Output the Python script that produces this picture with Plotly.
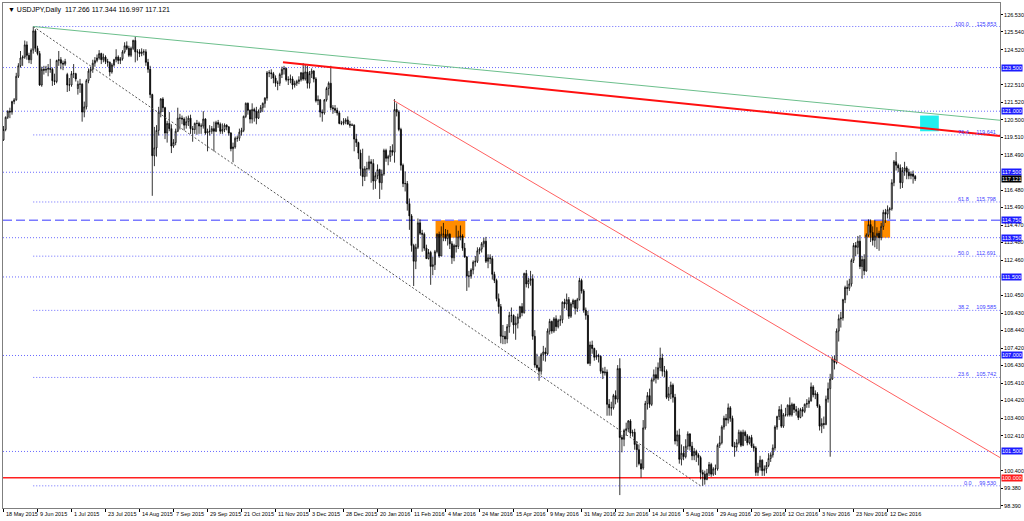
import plotly.graph_objects as go

# ---------------- data ----------------
open_ = [
119.35,119.95,120.65,121.00,120.95,121.55,121.65,123.00,123.60,124.05,124.10,124.80,124.20,123.95,124.50,125.60,
124.60,124.30,122.50,123.40,123.35,123.40,123.45,123.40,122.75,122.70,123.90,123.95,123.75,123.70,123.10,122.50,
122.50,123.15,123.15,122.30,122.55,122.55,120.95,121.25,122.75,123.30,123.40,123.75,123.90,124.05,124.30,123.95,
124.10,123.85,123.80,123.25,123.65,123.95,124.10,123.90,124.00,124.40,124.75,124.60,124.20,124.60,125.05,124.40,
124.40,124.30,124.40,124.40,123.80,123.40,121.95,118.45,118.90,119.90,120.95,121.70,121.20,119.75,120.30,120.00,
119.00,119.20,119.85,120.60,120.60,120.55,120.20,120.40,120.60,120.00,119.95,120.30,120.30,120.15,120.15,120.55,
119.75,119.85,119.85,120.00,119.85,120.35,120.25,119.85,119.95,120.20,120.10,119.75,118.85,118.95,119.45,119.45,
119.80,119.90,120.70,121.45,121.05,120.55,121.10,121.00,120.60,121.00,121.20,121.45,121.75,123.20,123.20,123.15,
122.90,122.60,122.60,123.10,123.40,123.45,122.80,122.80,122.85,122.50,122.60,122.70,122.80,123.20,122.85,123.25,
122.60,123.15,123.30,122.85,121.60,121.65,120.95,120.90,121.65,122.30,122.60,121.20,121.15,121.05,120.90,120.30,
120.30,120.40,120.50,120.25,120.20,120.20,119.40,119.20,118.60,117.70,117.25,117.70,117.70,118.10,118.00,117.00,
117.30,117.65,116.90,117.40,118.75,118.30,118.40,118.75,118.65,121.10,120.95,119.95,117.90,116.85,116.85,115.70,
115.00,113.30,112.40,113.20,114.60,114.00,113.95,113.15,112.55,112.90,112.10,112.20,112.95,113.95,112.70,113.95,
113.95,113.70,113.95,113.40,112.60,113.30,113.25,113.80,113.85,113.15,112.65,111.55,111.55,111.90,112.35,112.40,
113.00,113.10,113.40,113.55,112.40,112.60,112.55,111.65,111.30,110.25,109.80,108.10,108.10,107.95,108.65,109.30,
109.30,108.75,108.85,109.20,109.80,109.45,111.70,111.10,111.30,111.40,108.10,106.45,106.30,106.10,107.05,107.20,
107.10,108.40,108.95,108.40,109.10,108.65,109.00,109.05,110.05,109.95,110.20,109.25,109.95,110.15,109.70,110.20,
111.30,110.70,109.60,109.30,106.55,107.60,107.40,106.90,107.00,106.95,106.10,106.00,106.05,104.20,104.00,104.00,
104.70,104.50,106.25,102.30,102.20,102.70,102.80,103.25,102.55,102.60,101.90,101.60,100.80,100.55,102.85,104.25,
104.70,104.20,105.60,105.90,105.70,106.30,106.85,106.10,106.10,104.60,104.80,105.30,104.60,102.10,102.45,101.05,
101.40,101.20,101.80,102.50,101.80,101.25,101.50,101.30,101.15,100.30,100.20,99.90,100.25,100.75,100.20,100.50,
100.50,101.85,102.00,102.90,103.40,103.30,104.00,103.40,101.80,101.75,102.00,102.60,101.85,102.60,102.40,102.00,
102.30,101.80,101.70,100.30,100.60,101.00,100.40,100.50,100.70,101.10,101.30,101.70,102.90,103.50,103.90,102.95,
103.60,103.60,104.15,103.60,104.20,103.90,103.80,103.45,103.90,103.80,104.20,104.25,104.40,105.20,104.75,104.80,
104.10,102.95,103.10,103.05,104.50,105.10,105.65,106.80,106.60,108.40,109.10,109.15,110.20,110.90,110.85,111.10,
112.45,113.30,113.20,113.55,112.10,112.50,111.85,113.90,114.50,114.05,113.60,113.85,114.00,113.75,114.40,115.20,
115.10,115.35,115.40,116.90,118.10,117.90,117.75,116.90,117.60,117.75,117.50,117.30,117.40,117.266]

high = [
120.15,120.70,121.05,121.20,121.60,121.75,123.20,123.75,124.45,124.20,125.05,125.00,124.35,124.60,125.85,125.70,
124.75,124.45,123.55,123.60,123.60,123.70,124.00,123.50,123.15,123.95,124.45,124.10,123.90,124.00,123.20,122.90,
123.30,123.70,123.20,122.75,122.85,122.60,121.55,122.85,123.45,123.55,123.95,124.10,124.25,124.50,124.35,124.30,
124.20,124.00,123.85,123.75,124.00,124.55,124.20,124.10,124.50,124.95,125.00,124.75,124.70,125.10,125.28,124.55,
124.55,124.60,124.55,124.55,124.00,123.60,122.00,120.10,120.20,121.25,121.75,121.80,121.25,120.45,120.95,120.25,
119.40,120.00,121.20,120.85,120.75,120.65,120.70,120.75,120.80,120.15,120.35,120.50,120.40,120.30,121.00,120.60,
120.00,120.20,120.15,120.40,120.45,120.50,120.35,120.30,120.30,120.25,120.15,119.80,119.20,119.55,119.60,120.00,
120.05,120.75,121.50,121.50,121.10,121.45,121.20,121.25,121.10,121.35,121.50,121.80,123.30,123.35,123.40,123.25,
123.05,122.75,123.20,123.55,123.60,123.50,123.00,123.10,123.00,122.75,122.80,123.00,123.25,123.75,123.65,123.60,
123.30,123.45,123.35,122.95,121.90,121.70,121.10,121.70,122.40,122.70,123.60,121.35,121.35,121.20,121.00,120.45,
120.60,120.60,120.70,120.45,120.30,120.25,119.70,119.25,118.80,118.85,117.85,118.10,118.45,118.25,118.25,117.50,
117.95,117.70,117.65,118.85,118.85,118.50,119.00,119.10,121.69,121.45,121.05,120.05,118.00,117.55,117.00,116.00,
115.10,113.40,113.40,114.85,114.80,114.20,114.05,113.35,113.10,113.00,112.65,113.05,114.00,114.10,114.40,114.60,
114.25,114.20,114.00,113.55,113.40,114.45,114.15,114.45,113.95,113.45,112.70,111.85,112.00,112.45,112.70,113.20,
113.20,113.50,113.75,113.80,112.80,112.80,112.70,111.80,111.40,110.55,109.95,108.75,108.40,108.80,109.50,109.75,
109.35,109.25,109.40,109.85,110.00,111.75,111.90,111.45,111.85,111.65,108.45,107.10,106.95,107.15,107.55,107.45,
108.55,109.10,109.00,109.20,109.30,109.10,109.30,110.10,110.25,110.55,110.35,110.05,110.25,110.20,110.30,111.45,
111.40,110.80,109.75,109.55,107.80,107.85,107.45,107.30,107.10,107.00,106.30,106.35,106.20,104.50,104.35,104.80,
105.00,106.45,106.84,102.45,102.80,103.15,103.30,103.35,102.75,102.80,102.10,101.90,101.05,103.30,104.40,104.90,
105.10,105.70,106.20,106.35,106.60,107.45,107.10,106.40,106.20,105.20,105.50,105.40,104.80,102.70,102.80,101.90,
101.80,102.20,102.65,102.55,102.05,101.70,101.60,101.40,101.25,100.45,100.40,100.50,100.90,100.85,100.60,100.75,
101.95,102.40,103.00,103.55,103.65,104.25,104.10,103.55,102.05,102.20,102.75,102.70,102.75,102.70,102.50,102.40,
102.45,101.95,101.80,100.85,101.25,101.05,100.70,100.90,101.40,101.45,101.90,103.00,103.55,104.10,104.20,103.70,
104.00,104.20,104.60,104.30,104.25,104.10,104.00,104.00,104.05,104.25,104.50,104.60,105.45,105.30,105.00,104.90,
104.20,103.40,103.50,104.70,105.45,105.95,106.95,107.00,108.55,109.35,109.50,110.25,111.00,111.30,111.40,112.55,
113.45,113.50,113.85,113.90,112.70,112.80,114.00,114.80,114.80,114.40,114.75,114.35,114.15,114.60,115.35,115.40,
115.60,115.50,117.10,118.20,118.66,118.00,117.95,117.80,118.10,117.85,117.70,117.55,117.60,117.344]

low = [
119.30,119.85,120.55,120.60,120.80,121.40,121.60,122.90,123.50,123.60,124.00,123.95,123.75,123.70,124.30,124.40,
124.20,122.45,122.40,123.10,123.20,123.00,123.20,122.45,122.50,122.60,123.60,123.40,123.35,123.60,122.10,122.15,
122.40,122.90,122.70,121.95,122.05,120.40,120.65,121.10,122.60,122.90,123.20,123.55,123.80,123.95,123.70,123.80,
123.70,123.55,123.00,123.15,123.55,123.80,123.70,123.70,123.90,124.30,124.50,124.10,124.10,124.50,123.80,123.90,
124.10,124.15,124.20,123.60,123.20,121.75,116.15,117.85,118.40,119.60,120.65,120.95,119.40,119.20,119.85,118.60,
118.90,119.05,119.80,119.95,120.25,119.90,120.00,120.15,119.70,119.25,119.70,119.65,119.70,119.70,120.00,119.65,
118.70,119.60,119.70,118.70,119.80,120.05,119.70,119.70,119.80,119.90,119.60,118.70,118.07,118.85,119.25,119.30,
119.60,119.80,120.60,120.80,120.30,120.30,120.40,120.25,120.55,120.90,120.95,121.20,121.60,122.95,122.85,122.60,
122.40,122.20,122.45,122.90,123.10,122.70,122.50,122.60,122.25,122.35,122.45,122.55,122.70,122.75,122.75,122.30,
122.30,122.90,122.65,121.50,121.35,120.65,120.40,120.80,121.55,121.90,121.05,120.85,120.90,120.75,120.25,120.20,
120.20,120.25,120.25,120.05,120.15,118.70,118.95,118.25,117.30,116.70,117.00,117.25,117.60,116.90,116.50,116.55,
117.10,115.97,116.50,117.30,118.10,117.90,118.10,118.45,118.05,120.70,119.85,117.60,116.65,116.40,115.30,114.20,
112.95,110.98,111.95,113.10,113.90,112.95,113.00,112.55,112.50,111.05,111.60,111.90,112.85,112.60,112.70,113.55,
113.55,113.30,113.10,112.25,112.40,112.90,113.10,113.60,113.00,112.60,110.70,110.90,111.40,111.65,112.10,112.30,
112.80,112.90,113.20,112.30,112.00,112.25,111.35,111.15,110.10,109.40,107.70,107.65,107.65,107.70,108.30,108.90,
108.25,107.90,108.55,109.10,109.25,109.40,110.90,110.85,111.00,107.90,106.30,106.15,105.55,105.90,106.70,106.65,
107.00,108.20,108.25,108.30,108.40,108.55,108.70,108.85,109.70,109.60,109.10,109.15,109.75,109.35,109.50,110.15,
110.55,109.45,109.05,106.50,106.40,107.10,106.70,106.75,106.60,105.95,105.65,105.85,103.55,103.55,103.55,103.90,
104.20,104.30,99.00,101.45,101.80,102.40,102.60,102.35,102.35,101.60,100.60,100.70,100.00,100.45,102.75,103.90,
104.00,104.10,105.50,105.40,105.60,106.10,105.80,105.75,104.50,104.40,104.50,104.30,101.90,101.80,100.80,100.70,
101.00,101.10,101.60,101.55,101.00,101.00,100.90,100.70,99.90,99.53,99.60,99.85,100.10,100.05,100.10,100.15,
100.40,101.70,101.90,102.75,102.95,103.10,103.20,101.75,101.20,101.50,101.90,101.75,101.80,102.10,101.85,101.90,
101.70,101.50,100.10,100.10,100.40,100.10,100.10,100.25,100.60,100.90,101.15,101.55,102.75,103.30,102.85,102.85,
103.50,103.50,103.50,103.50,103.70,103.55,103.30,103.40,103.50,103.70,104.00,104.00,104.35,104.60,104.50,104.00,
102.70,102.55,102.80,103.00,104.30,101.20,105.60,106.20,106.50,107.80,108.60,109.00,110.00,110.45,110.70,110.95,
112.30,112.70,112.80,111.95,111.40,111.60,111.80,113.80,113.50,113.30,113.20,113.10,113.00,113.60,114.20,114.60,
114.85,114.80,115.30,116.70,117.60,117.50,116.55,116.60,117.30,117.10,117.10,117.10,116.85,116.997]

close = [
119.95,120.65,121.00,120.95,121.55,121.65,123.00,123.60,124.05,124.10,124.80,124.20,123.95,124.50,125.60,124.60,
124.30,122.50,123.40,123.35,123.40,123.45,123.40,122.75,122.70,123.90,123.95,123.75,123.70,123.85,122.50,122.50,
123.15,123.15,122.85,122.55,122.55,120.95,121.25,122.75,123.30,123.40,123.75,123.90,124.05,124.30,123.95,124.10,
123.85,123.80,123.25,123.65,123.95,124.10,123.90,124.00,124.40,124.75,124.60,124.20,124.60,125.05,124.40,124.40,
124.30,124.40,124.40,123.80,123.40,121.95,118.45,118.90,119.90,120.95,121.70,121.20,119.75,120.30,120.00,119.00,
119.20,119.85,120.60,120.60,120.55,120.20,120.40,120.60,120.00,119.95,120.30,120.30,120.15,120.15,120.55,119.75,
119.85,119.85,120.00,119.85,120.35,120.25,119.85,119.95,120.20,120.10,119.75,118.85,118.95,119.45,119.45,119.80,
119.90,120.70,121.45,121.05,120.55,121.10,121.00,120.60,121.00,121.20,121.45,121.75,123.20,123.20,123.15,122.90,
122.60,122.60,123.10,123.40,123.45,122.80,122.80,122.85,122.50,122.60,122.70,122.80,123.20,122.85,123.25,122.60,
123.15,123.30,122.85,121.60,121.65,120.95,120.90,121.65,122.30,122.60,121.20,121.15,121.05,120.90,120.30,120.30,
120.40,120.50,120.25,120.20,120.20,119.40,119.20,118.60,117.70,117.25,117.70,117.70,118.10,118.00,117.00,117.30,
117.65,116.90,117.40,118.75,118.30,118.40,118.75,118.65,121.10,120.95,119.95,117.90,116.85,116.85,115.70,115.00,
113.30,112.40,113.20,114.60,114.00,113.95,113.15,112.55,112.90,112.10,112.20,112.95,113.95,112.70,113.95,113.95,
113.70,113.95,113.40,112.60,113.30,113.25,113.80,113.85,113.15,112.65,111.55,111.55,111.90,112.35,112.40,113.00,
113.10,113.40,113.55,112.40,112.60,112.55,111.65,111.30,110.25,109.80,108.10,108.10,107.95,108.65,109.30,109.30,
108.75,108.85,109.20,109.80,109.45,111.70,111.10,111.30,111.40,108.10,106.45,106.30,106.10,107.05,107.20,107.10,
108.40,108.95,108.40,109.10,108.65,109.00,109.05,110.05,109.95,110.20,109.25,109.95,110.15,109.70,110.20,111.30,
110.70,109.60,109.30,106.55,107.60,107.40,106.90,107.00,106.95,106.10,106.00,106.05,104.20,104.00,104.00,104.70,
104.50,106.25,102.30,102.20,102.70,102.80,103.25,102.55,102.60,101.90,101.60,100.80,100.50,102.85,104.25,104.70,
104.20,105.60,105.90,105.70,106.30,106.85,106.10,106.10,104.60,104.80,105.30,104.60,102.10,102.45,101.05,101.40,
101.20,101.80,102.50,101.80,101.25,101.50,101.30,101.15,100.30,100.20,99.90,100.25,100.75,100.20,100.50,100.50,
101.85,102.00,102.90,103.40,103.30,104.00,103.40,101.80,101.75,102.00,102.60,101.85,102.60,102.40,102.00,102.30,
101.80,101.70,100.30,100.60,101.00,100.40,100.50,100.70,101.10,101.30,101.70,102.90,103.50,103.90,102.95,103.60,
103.60,104.15,103.60,104.20,103.90,103.80,103.45,103.90,103.80,104.20,104.25,104.40,105.20,104.75,104.80,104.10,
102.95,103.10,103.05,104.50,105.10,105.65,106.80,106.60,108.40,109.10,109.15,110.20,110.90,110.85,111.10,112.45,
113.30,113.20,113.55,112.10,112.50,111.85,113.90,114.50,114.05,113.60,113.85,114.00,113.75,114.40,115.20,115.10,
115.35,115.40,116.90,118.10,117.90,117.75,116.90,117.60,117.75,117.50,117.30,117.40,117.266,117.121]

date_labels = ["18 May 2015", "9 Jun 2015", "1 Jul 2015", "23 Jul 2015", "14 Aug 2015", "7 Sep 2015",
               "29 Sep 2015", "21 Oct 2015", "11 Nov 2015", "3 Dec 2015", "28 Dec 2015", "20 Jan 2016",
               "11 Feb 2016", "4 Mar 2016", "24 Mar 2016", "15 Apr 2016", "9 May 2016", "31 May 2016",
               "22 Jun 2016", "14 Jul 2016", "5 Aug 2016", "29 Aug 2016", "20 Sep 2016", "12 Oct 2016",
               "3 Nov 2016", "23 Nov 2016", "12 Dec 2016"]
bars_per_label = 16

price_ticks = [126.530, 125.540, 124.520, 122.510, 121.520, 120.500, 119.510, 118.490, 116.480, 115.490,
               114.470, 113.480, 112.460, 110.450, 109.430, 108.440, 107.420, 106.430, 105.410, 104.420,
               103.400, 102.410, 100.400, 99.380, 98.390]

h_levels = [123.500, 121.000, 117.500, 113.750, 111.500, 107.000, 101.500]   # blue dotted, labelled
dash_level = 114.750
red_level = 100.000
last_price = 117.121

fib_high, fib_low = 125.853, 99.530
fib_high_bar, fib_low_bar = 14, 328
fib_ratios = [100.0, 76.4, 61.8, 50.0, 38.2, 23.6, 0.0]

green_tl = (14, 125.853, 468.9, 120.48)
red_tl = (131.5, 123.80, 468.9, 119.58)
thin_red_tl = (183.5, 121.62, 468.9, 101.15)

orange_boxes = [(203.3, 217.3, 113.75, 114.75), (405.0, 417.2, 113.75, 114.75)]
cyan_box = (431.3, 440.1, 119.85, 120.75)

title_text = "\u25bc USDJPY,Daily  117.266 117.344 116.997 117.121"

# ---------------- figure ----------------
n = len(close)
assert len(open_) == n and len(high) == n and len(low) == n, (len(open_), len(high), len(low), n)
xs = list(range(n))
X0, X1 = -0.24, 468.9
Y0, Y1 = 98.26, 127.20

fig = go.Figure()
fig.add_trace(go.Candlestick(
    x=xs, open=open_, high=high, low=low, close=close,
    increasing=dict(line=dict(color="#000000", width=0.8), fillcolor="#ffffff"),
    decreasing=dict(line=dict(color="#000000", width=0.8), fillcolor="#000000"),
    whiskerwidth=0, hoverinfo="skip", showlegend=False))

shapes = []
BLUE = "#6a6aff"
DOT = "1px,2px"

for (xa, xb, ya, yb) in orange_boxes:
    shapes.append(dict(type="rect", xref="x", yref="y", x0=xa, x1=xb, y0=ya, y1=yb,
                       fillcolor="#ff8c00", line=dict(width=0), layer="below"))
shapes.append(dict(type="rect", xref="x", yref="y", x0=cyan_box[0], x1=cyan_box[1],
                   y0=cyan_box[2], y1=cyan_box[3], fillcolor="#22eeee", line=dict(width=0), layer="below"))

for lv in h_levels:
    shapes.append(dict(type="line", xref="x", yref="y", x0=X0, x1=X1, y0=lv, y1=lv,
                       line=dict(color=BLUE, width=1, dash=DOT), layer="below"))
shapes.append(dict(type="line", xref="x", yref="y", x0=X0, x1=X1, y0=dash_level, y1=dash_level,
                   line=dict(color="#7a7aff", width=1.3, dash="9px,4px"), layer="below"))
shapes.append(dict(type="line", xref="x", yref="y", x0=X0, x1=X1, y0=red_level, y1=red_level,
                   line=dict(color="#ff2020", width=1.5), layer="below"))

fib_levels = []
for r in fib_ratios:
    lv = fib_low + (fib_high - fib_low) * r / 100.0
    fib_levels.append((r, lv))
    shapes.append(dict(type="line", xref="x", yref="y", x0=fib_high_bar, x1=X1, y0=lv, y1=lv,
                       line=dict(color=BLUE, width=1, dash=DOT), layer="below"))
shapes.append(dict(type="line", xref="x", yref="y", x0=fib_high_bar, y0=fib_high,
                   x1=fib_low_bar, y1=fib_low, line=dict(color="#555555", width=1, dash="2px,2px")))

for (tl, col, w) in [(green_tl, "#6cbf8c", 1), (red_tl, "#ff1010", 2), (thin_red_tl, "#ff6060", 1)]:
    shapes.append(dict(type="line", xref="x", yref="y", x0=tl[0], y0=tl[1], x1=tl[2], y1=tl[3],
                       line=dict(color=col, width=w)))

annotations = []
FONT = "Liberation Sans"
SMALL = 5.5
annotations.append(dict(xref="paper", yref="paper", x=0, y=1, xanchor="left", yanchor="top",
                        xshift=3, yshift=-1, text=title_text, showarrow=False,
                        font=dict(family=FONT, size=7, color="#000000")))
for k, lab in enumerate(date_labels):
    annotations.append(dict(xref="x", yref="paper", x=k * bars_per_label, y=0, xanchor="left",
                            yanchor="top", xshift=0, yshift=-1, text=lab, showarrow=False,
                            font=dict(family=FONT, size=SMALL, color="#000000")))
for r, lv in fib_levels:
    annotations.append(dict(xref="paper", yref="y", x=1, y=lv, xanchor="right", yanchor="bottom",
                            xshift=-2, yshift=-2, text=f"{r:.1f}     {lv:.3f}", showarrow=False,
                            font=dict(family=FONT, size=SMALL, color="#4040ff")))

def price_box(val, bg):
    return dict(xref="paper", yref="y", x=1, y=val, xanchor="left", yanchor="middle", xshift=1,
                text=f"{val:.3f}", showarrow=False, bgcolor=bg, borderpad=0,
                font=dict(family=FONT, size=SMALL, color="#ffffff"))
for lv in h_levels + [dash_level]:
    annotations.append(price_box(lv, "#1c1cff"))
annotations.append(price_box(red_level, "#ff1c1c"))
annotations.append(price_box(last_price, "#000000"))

fig.update_layout(
    width=1024, height=521,
    margin=dict(l=3, r=24, t=3, b=13, pad=0, autoexpand=False),
    paper_bgcolor="#ffffff", plot_bgcolor="#ffffff",
    shapes=shapes, annotations=annotations,
    showlegend=False,
    font=dict(family=FONT, size=SMALL, color="#000000"),
    xaxis=dict(range=[X0, X1], rangeslider=dict(visible=False), showgrid=False, zeroline=False,
               tickvals=[k * bars_per_label for k in range(len(date_labels))], showticklabels=False,
               ticks="outside", ticklen=3, tickcolor="#000000", tickwidth=1,
               showline=True, linecolor="#7f7f7f", linewidth=1, mirror=True, automargin=False),
    yaxis=dict(range=[Y0, Y1], side="right", showgrid=False, zeroline=False,
               tickvals=price_ticks, ticktext=[f"{v:.3f}" for v in price_ticks],
               ticks="outside", ticklen=2, tickcolor="#000000", tickwidth=1,
               tickfont=dict(family=FONT, size=SMALL, color="#000000"),
               showline=True, linecolor="#7f7f7f", linewidth=1, mirror=True, automargin=False),
)

fig.write_html("out.html", config={"displayModeBar": False},
               post_script="document.body.style.margin='0';document.body.style.overflow='hidden';")
